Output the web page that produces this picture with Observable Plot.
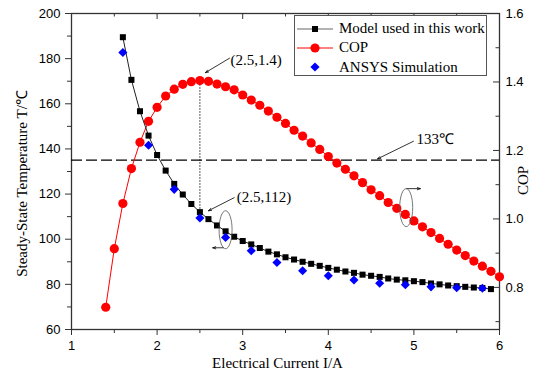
<!DOCTYPE html>
<html>
<head>
<meta charset="utf-8">
<script src="https://cdn.jsdelivr.net/npm/d3@7"></script>
<script src="https://cdn.jsdelivr.net/npm/@observablehq/plot@0.6"></script>
<style>
  html, body { margin: 0; padding: 0; background: #fff; }
  #wrap { position: relative; width: 538px; height: 382px; }
  #legend { position: absolute; left: 294px; top: 15px; width: 193px; height: 61px;
    border: 1px solid #555; background: #fff; font-family: "Liberation Serif", serif; font-size: 15px;
    padding-top: 3px; box-sizing: border-box; }
  .lrow { display: flex; align-items: center; height: 19.3px; }
  .lrow svg { margin-left: 2px; margin-right: 4px; }
</style>
</head>
<body>
<div id="wrap"><div id="legend"></div></div>
<script>
// ---- data ----
const modelCurrent = [1.6,1.7,1.8,1.9,2.0,2.1,2.2,2.3,2.4,2.5,2.6,2.7,2.8,2.9,3.0,3.1,3.2,3.3,3.4,3.5,3.6,3.7,3.8,3.9,4.0,4.1,4.2,4.3,4.4,4.5,4.6,4.7,4.8,4.9,5.0,5.1,5.2,5.3,5.4,5.5,5.6,5.7,5.8,5.9];
const modelTemp = [189.5,170.6,156.7,145.9,137.3,130.4,124.5,119.8,115.6,112.0,108.9,106.1,103.5,101.1,99.2,97.7,96.1,94.5,93.3,92.0,91.0,90.0,89.1,88.2,87.3,86.5,85.7,85.1,84.3,83.8,83.3,82.6,82.1,81.8,81.4,81.0,80.4,80.0,79.5,79.2,78.9,78.6,78.4,77.9];
const copCurrent = [1.4,1.5,1.6,1.7,1.8,1.9,2.0,2.1,2.2,2.3,2.4,2.5,2.6,2.7,2.8,2.9,3.0,3.1,3.2,3.3,3.4,3.5,3.6,3.7,3.8,3.9,4.0,4.1,4.2,4.3,4.4,4.5,4.6,4.7,4.8,4.9,5.0,5.1,5.2,5.3,5.4,5.5,5.6,5.7,5.8,5.9,6.0];
const copValues = [0.742,0.913,1.045,1.147,1.224,1.285,1.326,1.359,1.379,1.393,1.401,1.404,1.402,1.394,1.386,1.377,1.362,1.347,1.332,1.315,1.297,1.279,1.259,1.242,1.222,1.203,1.182,1.163,1.145,1.126,1.106,1.085,1.068,1.048,1.031,1.013,0.994,0.977,0.960,0.943,0.926,0.909,0.893,0.877,0.862,0.847,0.831];
const ansysCurrent = [1.6,1.9,2.2,2.5,2.8,3.1,3.4,3.7,4.0,4.3,4.6,4.9,5.2,5.5,5.8];
const ansysTemp = [182.7,141.6,122.1,109.4,100.8,94.9,89.7,86.0,83.8,81.9,80.5,79.8,78.9,78.5,78.3];

const xMajor = [1,2,3,4,5,6];
const xMinor = [1.5,2.5,3.5,4.5,5.5];
const tMajor = [60,80,100,120,140,160,180,200];
const tMinor = [70,90,110,130,150,170,190];
const copMajor = [0.8,1.0,1.2,1.4,1.6];
const copMinor = [0.7,0.9,1.1,1.3,1.5];

const legendLabels = ["Model used in this work","COP","ANSYS Simulation"];
const xTitle = "Electrical Current I/A";
const yTitle = "Steady-State Temperature T/℃";
const y2Title = "COP";

const thresholdTemp = 135;       // dashed line (labelled 133℃)
const optimumCurrent = 2.5, optimumCOP = 1.4, optimumTemp = 112;

// annotations (data units)
const noteTexts = [
  {x: 2.857, y: 179.2, text: "(2.5,1.4)"},
  {x: 2.93, y: 118.4, text: "(2.5,112)"},
  {x: 5.03, y: 144.1, text: "133℃"}
];
const noteArrows = [
  {x1: 2.846, y1: 180.2, x2: 2.565, y2: 173.8},
  {x1: 2.90, y1: 118.4, x2: 2.600, y2: 112.6},
  {x1: 4.995, y1: 143.4, x2: 4.575, y2: 135.6},
  {x1: 4.914, y1: 122.4, x2: 5.075, y2: 122.4},
  {x1: 2.776, y1: 96.2, x2: 2.650, y2: 96.2}
];
const noteEllipses = [
  {x: 4.91, y: 114.0},
  {x: 2.80, y: 104.2}
];

// ---- scales ----
const T_MIN = 60, T_MAX = 200, COP_MIN = 0.677, COP_MAX = 1.6;
const tOf = c => T_MIN + (c - COP_MIN) / (COP_MAX - COP_MIN) * (T_MAX - T_MIN);

const model = modelCurrent.map((x, i) => ({x, y: modelTemp[i]}));
const cop = copCurrent.map((x, i) => ({x, y: tOf(copValues[i])}));
const ansys = ansysCurrent.map((x, i) => ({x, y: ansysTemp[i]}));

const ellipse = {
  draw(ctx) {
    const rx = 6.5, ry = 19, k = 0.5523;
    ctx.moveTo(rx, 0);
    ctx.bezierCurveTo(rx, ry * k, rx * k, ry, 0, ry);
    ctx.bezierCurveTo(-rx * k, ry, -rx, ry * k, -rx, 0);
    ctx.bezierCurveTo(-rx, -ry * k, -rx * k, -ry, 0, -ry);
    ctx.bezierCurveTo(rx * k, -ry, rx, -ry * k, rx, 0);
    ctx.closePath();
  }
};

const W = 538, H = 382, mL = 71, mR = 39, mT = 13, mB = 53;
const innerW = W - mL - mR, innerH = H - mT - mB;
const sans = "Liberation Sans, Arial, sans-serif";
const serif = "Liberation Serif, Times New Roman, serif";

const chart = Plot.plot({
  width: W, height: H,
  marginLeft: mL, marginRight: mR, marginTop: mT, marginBottom: mB,
  x: {domain: [1, 6]},
  y: {domain: [T_MIN, T_MAX]},
  style: {fontFamily: sans, fontSize: "13px", background: "#fff", color: "#000", overflow: "visible"},
  marks: [
    // axes
    Plot.axisX(xMajor, {anchor: "bottom", tickSize: 6, tickPadding: 5, label: null, tickFormat: d => String(d), fontSize: 13, stroke: "#333"}),
    Plot.axisX(xMinor, {anchor: "bottom", tickSize: 4, label: null, tickFormat: () => "", stroke: "#333"}),
    Plot.tickX(xMajor, {x: d => d, insetBottom: innerH - 6, stroke: "#333"}),
    Plot.tickX(xMinor, {x: d => d, insetBottom: innerH - 3.5, stroke: "#333"}),
    Plot.axisY(tMajor, {anchor: "left", tickSize: 6, tickPadding: 5, label: null, tickFormat: d => String(d), fontSize: 13, stroke: "#333"}),
    Plot.axisY(tMinor, {anchor: "left", tickSize: 4, label: null, tickFormat: () => "", stroke: "#333"}),
    Plot.axisY(copMajor, {y: tOf, anchor: "right", tickSize: 0, tickPadding: 6, label: null, tickFormat: d => d.toFixed(1), fontSize: 13}),
    Plot.tickY(copMajor, {y: tOf, insetLeft: innerW - 6, stroke: "#333"}),
    Plot.tickY(copMinor, {y: tOf, insetLeft: innerW - 3.5, stroke: "#333"}),
    Plot.frame({stroke: "#333", strokeWidth: 1.3}),
    // titles
    Plot.text([xTitle], {text: d => d, frameAnchor: "bottom", textAnchor: "middle", lineAnchor: "middle", dy: 34, dx: -8, fontFamily: serif, fontSize: 15}),
    Plot.text([yTitle], {text: d => d, frameAnchor: "left", textAnchor: "middle", lineAnchor: "middle", rotate: -90, dx: -49, dy: 12, fontFamily: serif, fontSize: 15}),
    Plot.text([y2Title], {text: d => d, frameAnchor: "right", textAnchor: "middle", lineAnchor: "middle", rotate: -90, dx: 24, dy: 9, fontFamily: serif, fontSize: 15}),
    // reference lines
    Plot.ruleY([thresholdTemp], {stroke: "#000", strokeWidth: 1.2, strokeDasharray: "11,4"}),
    Plot.ruleX([optimumCurrent], {y1: optimumTemp, y2: tOf(optimumCOP), stroke: "#000", strokeWidth: 1, strokeDasharray: "1.3,1.7"}),
    // series
    Plot.line(cop, {x: "x", y: "y", stroke: "#ff0000", strokeWidth: 1}),
    Plot.dot(cop, {x: "x", y: "y", r: 4.6, fill: "#ff0000"}),
    Plot.line(model, {x: "x", y: "y", stroke: "#222", strokeWidth: 1}),
    Plot.dot(model, {x: "x", y: "y", symbol: "square", r: 3.4, fill: "#000"}),
    Plot.dot(ansys, {x: "x", y: "y", symbol: "diamond2", r: 4.1, fill: "#0000ff"}),
    // annotations
    Plot.text(noteTexts, {x: "x", y: "y", text: "text", textAnchor: "start", fontFamily: serif, fontSize: 15}),
    Plot.arrow(noteArrows, {x1: "x1", y1: "y1", x2: "x2", y2: "y2", stroke: "#000", strokeWidth: 0.8, headLength: 6, headAngle: 40}),
    Plot.dot(noteEllipses, {x: "x", y: "y", symbol: ellipse, stroke: "#555", strokeWidth: 0.8, fill: "none"})
  ]
});
document.getElementById("wrap").prepend(chart);

// legend
const leg = d3.select("#legend");
const rows = leg.selectAll("div").data(legendLabels).join("div").attr("class", "lrow");
rows.each(function (d, i) {
  const s = d3.select(this).append("svg").attr("width", 38).attr("height", 16);
  if (i < 2) s.append("line").attr("x1", 0).attr("x2", 36).attr("y1", 8).attr("y2", 8)
    .attr("stroke", i === 0 ? "#666" : "#ff0000").attr("stroke-width", 1);
  if (i === 0) s.append("rect").attr("x", 15).attr("y", 5).attr("width", 6).attr("height", 6).attr("fill", "#000");
  if (i === 1) s.append("circle").attr("cx", 18).attr("cy", 8).attr("r", 4.6).attr("fill", "#ff0000");
  if (i === 2) s.append("path").attr("d", "M18,3.4L22.6,8L18,12.6L13.4,8Z").attr("fill", "#0000ff");
  d3.select(this).append("span").text(d);
});
</script>
</body>
</html>
